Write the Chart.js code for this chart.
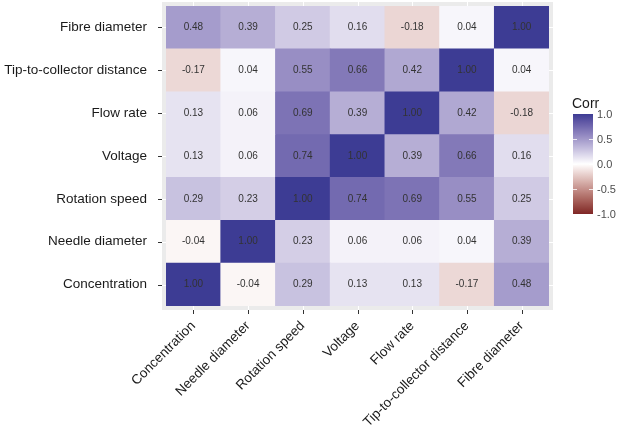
<!DOCTYPE html>
<html>
<head>
<meta charset="utf-8">
<script src="https://cdn.jsdelivr.net/npm/chart.js@4"></script>
<style>
  html, body { margin: 0; padding: 0; background: #fff; }
</style>
</head>
<body>
<canvas id="myChart" width="617" height="434"></canvas>
<script>
// variables, bottom row / left column first
const variables = ['Concentration', 'Needle diameter', 'Rotation speed', 'Voltage', 'Flow rate', 'Tip-to-collector distance', 'Fibre diameter'];

// correlation of each variable with the columns above
const concentration = [1.00, -0.04, 0.29, 0.13, 0.13, -0.17, 0.48];
const needleDiameter = [-0.04, 1.00, 0.23, 0.06, 0.06, 0.04, 0.39];
const rotationSpeed = [0.29, 0.23, 1.00, 0.74, 0.69, 0.55, 0.25];
const voltage = [0.13, 0.06, 0.74, 1.00, 0.39, 0.66, 0.16];
const flowRate = [0.13, 0.06, 0.69, 0.39, 1.00, 0.42, -0.18];
const tipDistance = [-0.17, 0.04, 0.55, 0.66, 0.42, 1.00, 0.04];
const fibreDiameter = [0.48, 0.39, 0.25, 0.16, -0.18, 0.04, 1.00];

const corrRows = [concentration, needleDiameter, rotationSpeed, voltage, flowRate, tipDistance, fibreDiameter];
const legendTicks = [1.0, 0.5, 0.0, -0.5, -1.0];

const LOW = '#7f2626';
const MID = '#ffffff';
const HIGH = '#3d3c94';

// colour helpers (interpolate in Lab like ggplot does)
function hexToRgb(h) {
  return [1, 3, 5].map((i) => parseInt(h.slice(i, i + 2), 16));
}
function rgbToLab(rgb) {
  const lin = rgb.map((c) => {
    c /= 255;
    return c <= 0.04045 ? c / 12.92 : Math.pow((c + 0.055) / 1.055, 2.4);
  });
  const x = (lin[0] * 0.4124 + lin[1] * 0.3576 + lin[2] * 0.1805) / 0.95047;
  const y = lin[0] * 0.2126 + lin[1] * 0.7152 + lin[2] * 0.0722;
  const z = (lin[0] * 0.0193 + lin[1] * 0.1192 + lin[2] * 0.9505) / 1.08883;
  const f = (t) => (t > 0.008856 ? Math.cbrt(t) : 7.787 * t + 16 / 116);
  return [116 * f(y) - 16, 500 * (f(x) - f(y)), 200 * (f(y) - f(z))];
}
function labToRgb(lab) {
  const fy = (lab[0] + 16) / 116;
  const fx = fy + lab[1] / 500;
  const fz = fy - lab[2] / 200;
  const inv = (t) => (t * t * t > 0.008856 ? t * t * t : (t - 16 / 116) / 7.787);
  const x = inv(fx) * 0.95047, y = inv(fy), z = inv(fz) * 1.08883;
  const lin = [
    x * 3.2406 + y * -1.5372 + z * -0.4986,
    x * -0.9689 + y * 1.8758 + z * 0.0415,
    x * 0.0557 + y * -0.204 + z * 1.057,
  ];
  return lin.map((c) => {
    c = c <= 0.0031308 ? 12.92 * c : 1.055 * Math.pow(c, 1 / 2.4) - 0.055;
    return Math.round(Math.min(1, Math.max(0, c)) * 255);
  });
}
const labLow = rgbToLab(hexToRgb(LOW));
const labMid = rgbToLab(hexToRgb(MID));
const labHigh = rgbToLab(hexToRgb(HIGH));
function corrColor(v) {
  const t = Math.min(1, Math.abs(v));
  const end = v < 0 ? labLow : labHigh;
  const lab = labMid.map((m, i) => m + (end[i] - m) * t);
  const rgb = labToRgb(lab);
  return `rgb(${rgb[0]}, ${rgb[1]}, ${rgb[2]})`;
}

const textFont = 'Arial, "Liberation Sans", sans-serif';

// grey panel, white grid lines and axis tick marks
const panelPlugin = {
  id: 'panel',
  beforeDatasetsDraw(chart) {
    const { ctx, chartArea: a, scales } = chart;
    const pad = 4;
    ctx.save();
    ctx.fillStyle = '#ebebeb';
    ctx.fillRect(a.left - pad, a.top - pad, a.right - a.left + pad * 2, a.bottom - a.top + pad * 2);
    ctx.strokeStyle = '#ffffff';
    ctx.lineWidth = 1;
    scales.x.ticks.forEach((t, i) => {
      const x = Math.round(scales.x.getPixelForTick(i)) + 0.5;
      ctx.beginPath();
      ctx.moveTo(x, a.top - pad);
      ctx.lineTo(x, a.bottom + pad);
      ctx.stroke();
    });
    scales.y.ticks.forEach((t) => {
      const y = Math.round(scales.y.getPixelForValue(t.value)) + 0.5;
      ctx.beginPath();
      ctx.moveTo(a.left - pad, y);
      ctx.lineTo(a.right + pad, y);
      ctx.stroke();
    });
    ctx.strokeStyle = '#333333';
    scales.x.ticks.forEach((t, i) => {
      const x = Math.round(scales.x.getPixelForTick(i)) + 0.5;
      ctx.beginPath();
      ctx.moveTo(x, a.bottom + pad);
      ctx.lineTo(x, a.bottom + pad + 4);
      ctx.stroke();
    });
    scales.y.ticks.forEach((t) => {
      const y = Math.round(scales.y.getPixelForValue(t.value)) + 0.5;
      ctx.beginPath();
      ctx.moveTo(a.left - pad - 4, y);
      ctx.lineTo(a.left - pad, y);
      ctx.stroke();
    });
    ctx.restore();
  },
};

// values written in each cell
const cellLabels = {
  id: 'cellLabels',
  afterDatasetsDraw(chart) {
    const { ctx } = chart;
    ctx.save();
    ctx.font = `10px ${textFont}`;
    ctx.fillStyle = '#333333';
    ctx.textAlign = 'center';
    ctx.textBaseline = 'middle';
    chart.data.datasets.forEach((ds, i) => {
      chart.getDatasetMeta(i).data.forEach((el, j) => {
        ctx.fillText(ds.corr[j].toFixed(2), el.x, (el.y + el.base) / 2);
      });
    });
    ctx.restore();
  },
};

// colourbar legend on the right
const colorBar = {
  id: 'colorBar',
  afterDraw(chart) {
    const { ctx, chartArea: a } = chart;
    const x = a.right + 24;
    const w = 20;
    const top = 114;
    const bottom = 214;
    const yFor = (v) => top + (1 - v) / 2 * (bottom - top);
    ctx.save();
    ctx.font = `14px ${textFont}`;
    ctx.fillStyle = '#1a1a1a';
    ctx.textBaseline = 'middle';
    ctx.fillText('Corr', x - 1, top - 10);
    const grad = ctx.createLinearGradient(0, top, 0, bottom);
    for (let k = 0; k <= 40; k++) {
      const v = 1 - k / 20;
      grad.addColorStop(k / 40, corrColor(v));
    }
    ctx.fillStyle = grad;
    ctx.fillRect(x, top, w, bottom - top);
    ctx.strokeStyle = 'rgba(255,255,255,0.8)';
    ctx.lineWidth = 1;
    ctx.font = `11px ${textFont}`;
    ctx.fillStyle = '#4d4d4d';
    legendTicks.forEach((v) => {
      const y = Math.round(yFor(v)) + 0.5;
      if (v > -1 && v < 1) {
        ctx.beginPath();
        ctx.moveTo(x, y);
        ctx.lineTo(x + 4, y);
        ctx.moveTo(x + w - 4, y);
        ctx.lineTo(x + w, y);
        ctx.stroke();
      }
      ctx.fillText(v.toFixed(1), x + w + 4, y);
    });
    ctx.restore();
  },
};

const datasets = corrRows.map((row, i) => ({
  label: variables[i],
  corr: row,
  data: row.map(() => [i, i + 1]),
  backgroundColor: row.map((v) => corrColor(v)),
  borderWidth: 0,
  barPercentage: 1,
  categoryPercentage: 1,
  grouped: false,
}));

const ctx = document.getElementById('myChart');

const chart = new Chart(ctx, {
  type: 'bar',
  data: {
    labels: variables,
    datasets: datasets,
  },
  options: {
    responsive: false,
    devicePixelRatio: 1,
    animation: false,
    layout: {
      padding: { top: 6, right: 68, left: 0, bottom: 0 },
    },
    plugins: {
      legend: { display: false },
      tooltip: { enabled: false },
    },
    scales: {
      x: {
        grid: { display: false, drawTicks: false },
        border: { display: false },
        ticks: {
          autoSkip: false,
          minRotation: 45,
          maxRotation: 45,
          padding: 12,
          color: '#1a1a1a',
          font: { family: textFont, size: 13.5 },
        },
        afterFit(scale) {
          scale.height = 128;
          scale.paddingLeft = 0;
          scale.paddingRight = 0;
        },
      },
      y: {
        type: 'linear',
        min: 0,
        max: 7,
        grid: { display: false, drawTicks: false },
        border: { display: false },
        afterBuildTicks(scale) {
          scale.ticks = variables.map((_, i) => ({ value: i + 0.5 }));
        },
        ticks: {
          autoSkip: false,
          padding: 19,
          color: '#1a1a1a',
          font: { family: textFont, size: 13.5 },
          callback: (value, index) => variables[index],
        },
        afterFit(scale) {
          scale.width = 166;
          scale.paddingTop = 0;
          scale.paddingBottom = 0;
        },
      },
    },
  },
  plugins: [panelPlugin, cellLabels, colorBar],
});
</script>
</body>
</html>
